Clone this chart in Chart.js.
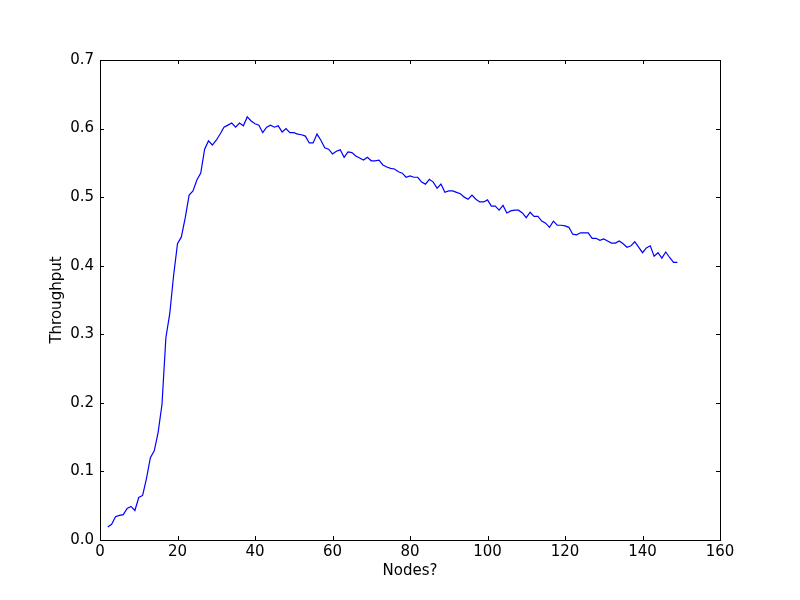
<!DOCTYPE html>
<html>
<head>
<meta charset="utf-8">
<script src="https://cdn.jsdelivr.net/npm/chart.js@4"></script>
<style>
    html, body { margin: 0; padding: 0; background: #fff; }
    #wrap { width: 800px; height: 600px; }
</style>
</head>
<body>
<div id="wrap"><canvas id="chart" width="800" height="600"></canvas></div>
<script>
const nodes = []
for (let n = 2; n <= 149; n++) nodes.push(n)

const throughput = [
    0.019, 0.023, 0.034, 0.036, 0.037, 0.046, 0.049, 0.043, 0.062, 0.065,
    0.090, 0.120, 0.130, 0.157, 0.198, 0.295, 0.330, 0.386, 0.432, 0.442,
    0.470, 0.503, 0.509, 0.525, 0.535, 0.570, 0.582, 0.576, 0.583, 0.592,
    0.602, 0.605, 0.608, 0.602, 0.608, 0.604, 0.617, 0.611, 0.607, 0.605,
    0.594, 0.602, 0.605, 0.602, 0.604, 0.595, 0.600, 0.594, 0.594, 0.592,
    0.591, 0.589, 0.579, 0.579, 0.592, 0.583, 0.572, 0.570, 0.563, 0.567,
    0.569, 0.558, 0.566, 0.565, 0.560, 0.557, 0.554, 0.558, 0.553, 0.553,
    0.554, 0.547, 0.544, 0.542, 0.541, 0.537, 0.535, 0.529, 0.531, 0.529,
    0.529, 0.522, 0.519, 0.526, 0.522, 0.513, 0.519, 0.507, 0.509, 0.509,
    0.507, 0.505, 0.500, 0.497, 0.503, 0.497, 0.493, 0.493, 0.496, 0.487,
    0.487, 0.481, 0.488, 0.477, 0.480, 0.481, 0.481, 0.477, 0.470, 0.478,
    0.472, 0.472, 0.465, 0.462, 0.456, 0.465, 0.459, 0.459, 0.458, 0.456,
    0.446, 0.445, 0.448, 0.448, 0.448, 0.440, 0.440, 0.437, 0.439, 0.436,
    0.433, 0.433, 0.436, 0.432, 0.427, 0.429, 0.435, 0.427, 0.419, 0.426,
    0.429, 0.414, 0.419, 0.411, 0.420, 0.412, 0.405, 0.405
]

const xTitle = "Nodes?"
const yTitle = "Throughput"

const font = "DejaVu Sans"
const fontSize = 15

// matplotlib style frame with inward ticks on all four sides
const frameTicks = {
    id: "frameTicks",
    afterDraw(chart) {
        const { ctx, chartArea: a, scales } = chart
        const len = 4
        ctx.save()
        ctx.strokeStyle = "#000"
        ctx.lineWidth = 1
        ctx.beginPath()
        scales.x.ticks.forEach(t => {
            const px = Math.round(scales.x.getPixelForValue(t.value)) + 0.5
            ctx.moveTo(px, a.bottom); ctx.lineTo(px, a.bottom - len)
            ctx.moveTo(px, a.top); ctx.lineTo(px, a.top + len)
        })
        scales.y.ticks.forEach(t => {
            const py = Math.round(scales.y.getPixelForValue(t.value)) + 0.5
            ctx.moveTo(a.left, py); ctx.lineTo(a.left + len, py)
            ctx.moveTo(a.right, py); ctx.lineTo(a.right - len, py)
        })
        ctx.stroke()
        ctx.strokeRect(Math.round(a.left) + 0.5, Math.round(a.top) + 0.5,
            Math.round(a.right - a.left), Math.round(a.bottom - a.top))
        ctx.restore()
    }
}

window.addEventListener("load", () => {
    const ctx = document.querySelector("#chart").getContext("2d")

    new Chart(ctx, {
        type: "line",
        data: {
            datasets: [{
                data: nodes.map((n, i) => ({ x: n, y: throughput[i] })),
                borderColor: "#0000ff",
                borderWidth: 1.2,
                pointRadius: 0,
                tension: 0,
                fill: false
            }]
        },
        options: {
            responsive: false,
            animation: false,
            events: [],
            layout: { padding: { top: 60, right: 80, left: 0, bottom: 0 } },
            plugins: { legend: { display: false }, tooltip: { enabled: false } },
            scales: {
                x: {
                    type: "linear",
                    min: 0, max: 160,
                    afterFit: s => { s.height = 60 },
                    grid: { display: false, drawTicks: false },
                    border: { display: false },
                    ticks: { stepSize: 20, padding: 3, color: "#000", font: { family: font, size: fontSize }, maxRotation: 0 },
                    title: { display: true, text: xTitle, color: "#000", font: { family: font, size: fontSize }, padding: { top: 0, bottom: 20 } }
                },
                y: {
                    min: 0, max: 0.7,
                    afterFit: s => { s.width = 100 },
                    grid: { display: false, drawTicks: false },
                    border: { display: false },
                    ticks: {
                        stepSize: 0.1, padding: 6, color: "#000",
                        font: { family: font, size: fontSize },
                        callback: v => v.toFixed(1)
                    },
                    title: { display: true, text: yTitle, color: "#000", font: { family: font, size: fontSize }, padding: { top: 48, bottom: 0 } }
                }
            }
        },
        plugins: [frameTicks]
    })
})
</script>
</body>
</html>
